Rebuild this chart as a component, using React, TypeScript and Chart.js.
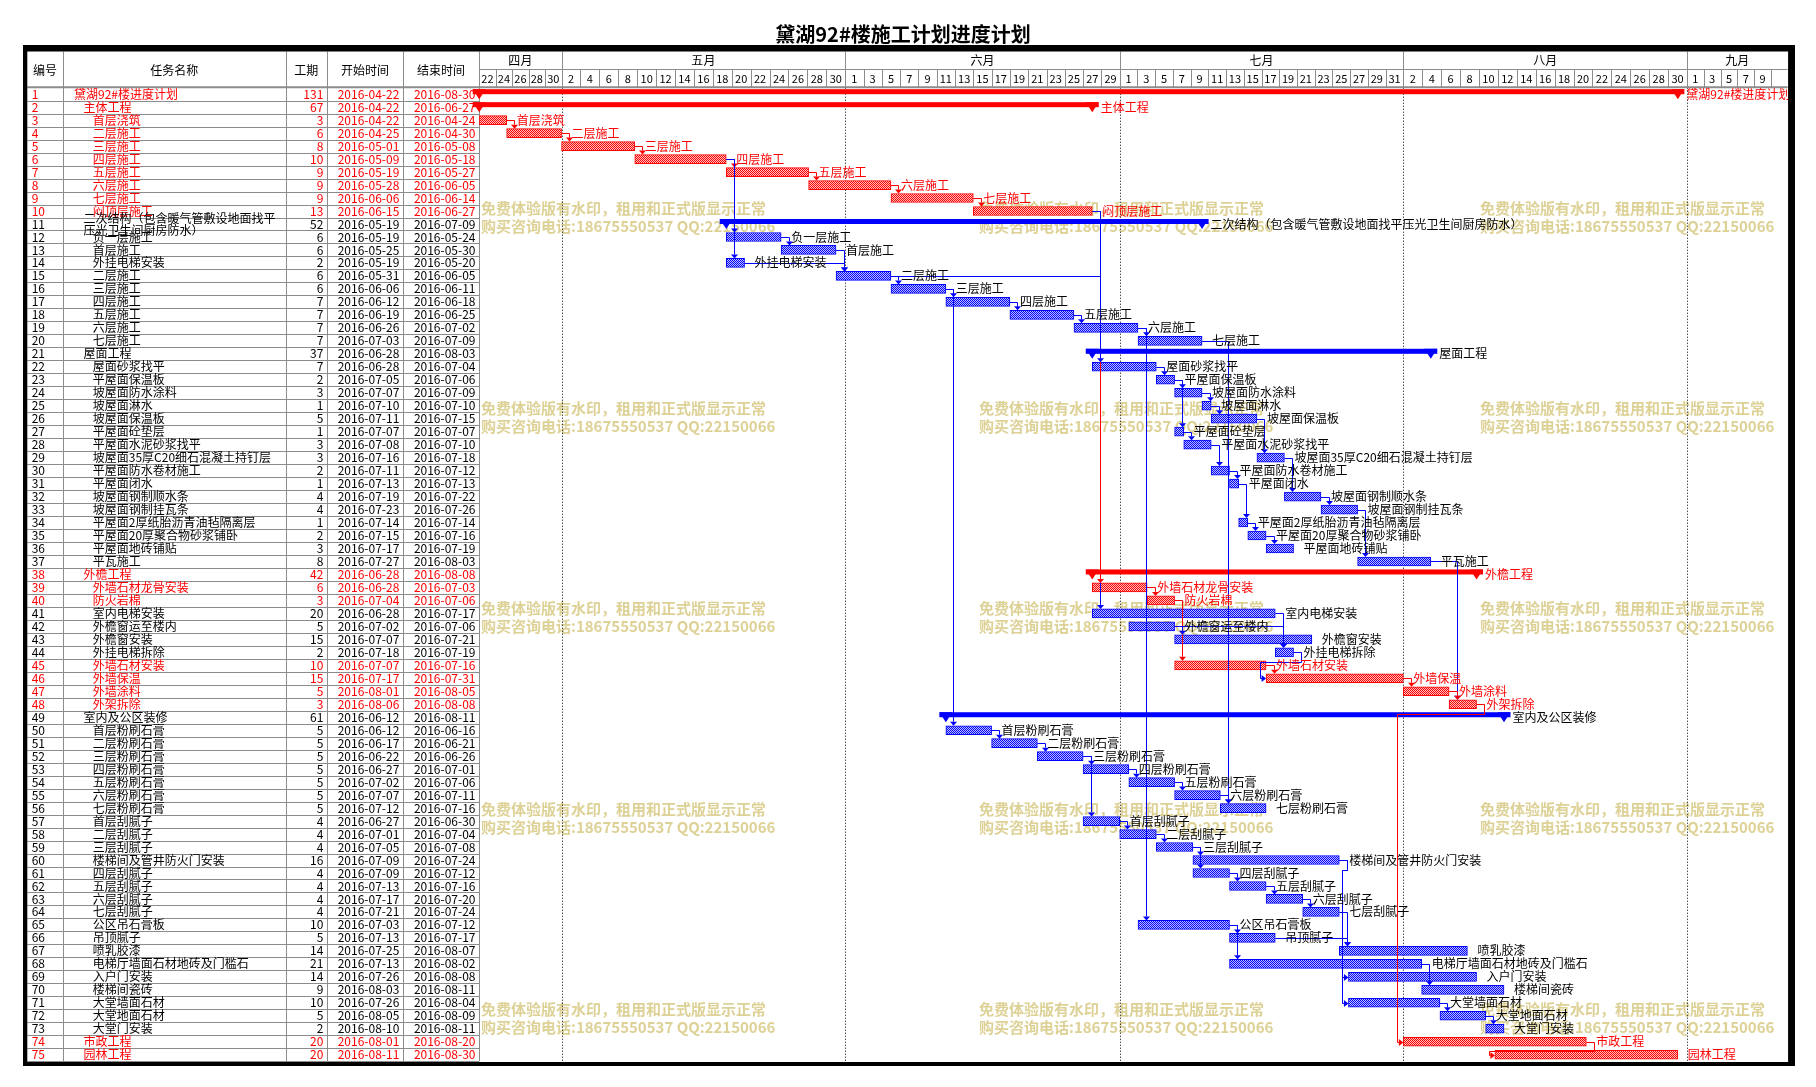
import React, { useEffect, useRef } from 'react';
import { Chart, registerables } from 'chart.js';
Chart.register(...registerables);

const chartTitle = '黛湖92#楼施工计划进度计划';
const tableHeaders = ['编号', '任务名称', '工期', '开始时间', '结束时间'];

const taskNames = [
  '黛湖92#楼进度计划', '主体工程', '首层浇筑', '二层施工', '三层施工', '四层施工', '五层施工', '六层施工', '七层施工', '闷顶层施工',
  '二次结构（包含暖气管敷设地面找平压光卫生间厨房防水）', '负一层施工', '首层施工', '外挂电梯安装', '二层施工', '三层施工', '四层施工', '五层施工', '六层施工', '七层施工',
  '屋面工程', '屋面砂浆找平', '平屋面保温板', '坡屋面防水涂料', '坡屋面淋水', '坡屋面保温板', '平屋面砼垫层', '平屋面水泥砂浆找平', '坡屋面35厚C20细石混凝土持钉层', '平屋面防水卷材施工',
  '平屋面闭水', '坡屋面钢制顺水条', '坡屋面钢制挂瓦条', '平屋面2厚纸胎沥青油毡隔离层', '平屋面20厚聚合物砂浆铺卧', '平屋面地砖铺贴', '平瓦施工', '外檐工程', '外墙石材龙骨安装', '防火岩棉',
  '室内电梯安装', '外檐窗运至楼内', '外檐窗安装', '外挂电梯拆除', '外墙石材安装', '外墙保温', '外墙涂料', '外架拆除', '室内及公区装修', '首层粉刷石膏',
  '二层粉刷石膏', '三层粉刷石膏', '四层粉刷石膏', '五层粉刷石膏', '六层粉刷石膏', '七层粉刷石膏', '首层刮腻子', '二层刮腻子', '三层刮腻子', '楼梯间及管井防火门安装',
  '四层刮腻子', '五层刮腻子', '六层刮腻子', '七层刮腻子', '公区吊石膏板', '吊顶腻子', '喷乳胶漆', '电梯厅墙面石材地砖及门槛石', '入户门安装', '楼梯间瓷砖',
  '大堂墙面石材', '大堂地面石材', '大堂门安装', '市政工程', '园林工程',
];

const durations = [
  131, 67, 3, 6, 8, 10, 9, 9, 9, 13,
  52, 6, 6, 2, 6, 6, 7, 7, 7, 7,
  37, 7, 2, 3, 1, 5, 1, 3, 3, 2,
  1, 4, 4, 1, 2, 3, 8, 42, 6, 3,
  20, 5, 15, 2, 10, 15, 5, 3, 61, 5,
  5, 5, 5, 5, 5, 5, 4, 4, 4, 16,
  4, 4, 4, 4, 10, 5, 14, 21, 14, 9,
  10, 5, 2, 20, 20,
];

const startDates = [
  '2016-04-22', '2016-04-22', '2016-04-22', '2016-04-25', '2016-05-01', '2016-05-09', '2016-05-19', '2016-05-28', '2016-06-06', '2016-06-15',
  '2016-05-19', '2016-05-19', '2016-05-25', '2016-05-19', '2016-05-31', '2016-06-06', '2016-06-12', '2016-06-19', '2016-06-26', '2016-07-03',
  '2016-06-28', '2016-06-28', '2016-07-05', '2016-07-07', '2016-07-10', '2016-07-11', '2016-07-07', '2016-07-08', '2016-07-16', '2016-07-11',
  '2016-07-13', '2016-07-19', '2016-07-23', '2016-07-14', '2016-07-15', '2016-07-17', '2016-07-27', '2016-06-28', '2016-06-28', '2016-07-04',
  '2016-06-28', '2016-07-02', '2016-07-07', '2016-07-18', '2016-07-07', '2016-07-17', '2016-08-01', '2016-08-06', '2016-06-12', '2016-06-12',
  '2016-06-17', '2016-06-22', '2016-06-27', '2016-07-02', '2016-07-07', '2016-07-12', '2016-06-27', '2016-07-01', '2016-07-05', '2016-07-09',
  '2016-07-09', '2016-07-13', '2016-07-17', '2016-07-21', '2016-07-03', '2016-07-13', '2016-07-25', '2016-07-13', '2016-07-26', '2016-08-03',
  '2016-07-26', '2016-08-05', '2016-08-10', '2016-08-01', '2016-08-11',
];

const endDates = [
  '2016-08-30', '2016-06-27', '2016-04-24', '2016-04-30', '2016-05-08', '2016-05-18', '2016-05-27', '2016-06-05', '2016-06-14', '2016-06-27',
  '2016-07-09', '2016-05-24', '2016-05-30', '2016-05-20', '2016-06-05', '2016-06-11', '2016-06-18', '2016-06-25', '2016-07-02', '2016-07-09',
  '2016-08-03', '2016-07-04', '2016-07-06', '2016-07-09', '2016-07-10', '2016-07-15', '2016-07-07', '2016-07-10', '2016-07-18', '2016-07-12',
  '2016-07-13', '2016-07-22', '2016-07-26', '2016-07-14', '2016-07-16', '2016-07-19', '2016-08-03', '2016-08-08', '2016-07-03', '2016-07-06',
  '2016-07-17', '2016-07-06', '2016-07-21', '2016-07-19', '2016-07-16', '2016-07-31', '2016-08-05', '2016-08-08', '2016-08-11', '2016-06-16',
  '2016-06-21', '2016-06-26', '2016-07-01', '2016-07-06', '2016-07-11', '2016-07-16', '2016-06-30', '2016-07-04', '2016-07-08', '2016-07-24',
  '2016-07-12', '2016-07-16', '2016-07-20', '2016-07-24', '2016-07-12', '2016-07-17', '2016-08-07', '2016-08-02', '2016-08-08', '2016-08-11',
  '2016-08-04', '2016-08-09', '2016-08-11', '2016-08-20', '2016-08-30',
];

const levels = [
  0, 1, 2, 2, 2, 2, 2, 2, 2, 2,
  1, 2, 2, 2, 2, 2, 2, 2, 2, 2,
  1, 2, 2, 2, 2, 2, 2, 2, 2, 2,
  2, 2, 2, 2, 2, 2, 2, 1, 2, 2,
  2, 2, 2, 2, 2, 2, 2, 2, 1, 2,
  2, 2, 2, 2, 2, 2, 2, 2, 2, 2,
  2, 2, 2, 2, 2, 2, 2, 2, 2, 2,
  2, 2, 2, 1, 1,
];

const criticalRows = [1, 2, 3, 4, 5, 6, 7, 8, 9, 10, 38, 39, 40, 45, 46, 47, 48, 74, 75];
const summaryRows = [1, 2, 11, 21, 38, 49];

// [predecessor row, successor row, 'h' = enters from the left]
const links: [number, number, string?][] = [
  [3, 4], [4, 5], [5, 6], [6, 7], [7, 8], [8, 9], [9, 10],
  [6, 12], [6, 14], [12, 13], [13, 15], [14, 15], [15, 16], [16, 17], [17, 18], [18, 19], [19, 20],
  [15, 41], [10, 39], [10, 22],
  [22, 23], [23, 24], [24, 25], [25, 26], [23, 27], [27, 28], [28, 30], [26, 29], [30, 31], [31, 34],
  [29, 32], [32, 33], [34, 35], [35, 36], [33, 37],
  [39, 40], [40, 45], [41, 44], [42, 44], [42, 43], [44, 46, 'h'], [45, 46], [46, 47], [37, 48], [47, 48],
  [16, 50], [50, 51], [51, 52], [52, 53], [53, 54], [54, 55], [55, 56], [20, 56],
  [52, 57], [57, 58], [58, 59], [59, 60], [59, 61], [61, 62], [62, 63], [63, 64],
  [19, 65], [65, 66], [65, 68], [64, 67], [66, 67], [68, 70], [60, 69, 'h'], [60, 71, 'h'], [71, 72], [72, 73],
  [48, 74, 'h'], [74, 75, 'h'],
];

const monthLabels = ['四月', '五月', '六月', '七月', '八月', '九月'];
const monthStarts = ['2016-04-22', '2016-05-01', '2016-06-01', '2016-07-01', '2016-08-01', '2016-09-01'];
const dayTickLabels = [
  ['22', '24', '26', '28', '30'],
  ['2', '4', '6', '8', '10', '12', '14', '16', '18', '20', '22', '24', '26', '28', '30'],
  ['1', '3', '5', '7', '9', '11', '13', '15', '17', '19', '21', '23', '25', '27', '29'],
  ['1', '3', '5', '7', '9', '11', '13', '15', '17', '19', '21', '23', '25', '27', '29', '31'],
  ['2', '4', '6', '8', '10', '12', '14', '16', '18', '20', '22', '24', '26', '28', '30'],
  ['1', '3', '5', '7', '9', ''],
];
const axisEndDay = 143;

const watermarkLines = ['免费体验版有水印，租用和正式版显示正常', '购买咨询电话:18675550537 QQ:22150066'];

// ---- helpers ----
const DAY0 = Date.UTC(2016, 3, 22);
const dayIdx = (s: string) => {
  const [yy, mm, dd] = s.split('-').map(Number);
  return (Date.UTC(yy, mm - 1, dd) - DAY0) / 86400000;
};

const OFF = 8; // body margin: page coords -> canvas coords
const W = 1800;
const H = 1071;
const FONT = '"Noto Sans CJK SC", "Noto Sans", sans-serif';
const RED = '#FF0000';
const BLUE = '#0000FF';
const GRID = '#8c8c8c';

const isCrit = (i: number) => criticalRows.includes(i + 1);
const isSummary = (i: number) => summaryRows.includes(i + 1);

const ganttPlugin = {
  id: 'gantt',
  beforeDraw(chart: any) {
    const ctx = chart.ctx;
    ctx.save();
    ctx.fillStyle = '#fff';
    ctx.fillRect(0, 0, chart.width, chart.height);
    ctx.restore();
  },
  beforeDatasetsDraw(chart: any) {
    const { ctx, scales } = chart;
    const x = scales.x, y = scales.y;
    const X = (v: number) => x.getPixelForValue(v) + OFF;
    const rowC = (i: number) => y.getPixelForValue(i) + OFF;
    const rowH = (y.bottom - y.top) / taskNames.length;
    const gL = x.left + OFF, gR = x.right + OFF;
    const tTop = y.top + OFF, tBot = y.bottom + OFF;
    const headTop = 51.5, headMid = 69;
    const cols = [27.3, 62.7, 285.7, 327, 403];

    ctx.save();
    ctx.translate(-OFF, -OFF);

    // title
    ctx.fillStyle = '#000';
    ctx.font = `bold 20px ${FONT}`;
    ctx.textAlign = 'center';
    ctx.textBaseline = 'middle';
    ctx.fillText(chartTitle, 903, 34);

    // watermark
    ctx.save();
    ctx.beginPath();
    ctx.rect(gL, tTop, gR - gL, tBot - tTop);
    ctx.clip();
    ctx.font = `bold 15px ${FONT}`;
    ctx.fillStyle = 'rgb(221,209,150)';
    ctx.textAlign = 'left';
    const wmX = [481, 979, 1480];
    const wmY = [208.5, 408.5, 608.5, 809, 1009];
    wmY.forEach((wy) => wmX.forEach((wx) => {
      ctx.fillText(watermarkLines[0], wx, wy);
      ctx.fillText(watermarkLines[1], wx, wy + 18);
    }));
    ctx.restore();

    // month dotted lines
    ctx.save();
    ctx.strokeStyle = '#000';
    ctx.lineWidth = 1;
    ctx.setLineDash([1, 2]);
    monthStarts.slice(1).forEach((m) => {
      const px = Math.round(X(dayIdx(m))) + 0.5;
      ctx.beginPath();
      ctx.moveTo(px, tTop);
      ctx.lineTo(px, tBot);
      ctx.stroke();
    });
    ctx.restore();

    // table grid
    ctx.strokeStyle = GRID;
    ctx.lineWidth = 1;
    ctx.beginPath();
    for (let i = 1; i <= taskNames.length; i++) {
      const yy = Math.round(tTop + i * rowH) + 0.5;
      ctx.moveTo(cols[0], yy);
      ctx.lineTo(gL, yy);
    }
    [cols[1], cols[2], cols[3], cols[4], gL, gR].forEach((cx) => {
      const px = Math.round(cx) + 0.5;
      ctx.moveTo(px, headTop);
      ctx.lineTo(px, tBot);
    });
    ctx.moveTo(gL, Math.round(headMid) + 0.5);
    ctx.lineTo(gR, Math.round(headMid) + 0.5);
    ctx.stroke();
    ctx.lineWidth = 2;
    ctx.beginPath();
    ctx.moveTo(cols[0], tTop - 0.5);
    ctx.lineTo(gR, tTop - 0.5);
    ctx.stroke();
    ctx.lineWidth = 1;

    // gantt header: months and equal-width day cells within each month
    ctx.fillStyle = '#000';
    ctx.textAlign = 'center';
    ctx.textBaseline = 'middle';
    ctx.beginPath();
    monthLabels.forEach((lab, k) => {
      const ms = dayIdx(monthStarts[k]);
      const me = k + 1 < monthStarts.length ? dayIdx(monthStarts[k + 1]) : axisEndDay;
      const x0 = X(ms), x1 = X(me);
      ctx.font = `12px ${FONT}`;
      ctx.fillText(lab, (x0 + x1) / 2, 60);
      if (k > 0) {
        const px = Math.round(x0) + 0.5;
        ctx.moveTo(px, headTop);
        ctx.lineTo(px, tTop);
      }
      const labs = dayTickLabels[k];
      const cw = (x1 - x0) / labs.length;
      ctx.font = `11px ${FONT}`;
      labs.forEach((txt, j) => {
        const cs = x0 + j * cw;
        const tw = ctx.measureText(txt).width;
        const cx = cs + cw / 2;
        if (tw > cw - 2) {
          ctx.save();
          ctx.translate(cx, 78.5);
          ctx.scale((cw - 2) / tw, 1);
          ctx.fillText(txt, 0, 0);
          ctx.restore();
        } else {
          ctx.fillText(txt, cx, 78.5);
        }
        if (j < labs.length - 1) {
          const px = Math.round(cs + cw) + 0.5;
          ctx.moveTo(px, headMid);
          ctx.lineTo(px, tTop);
        }
      });
    });
    ctx.stroke();

    // table header text
    ctx.font = `12px ${FONT}`;
    ctx.fillStyle = '#000';
    const colEdges = [27.3, 62.7, 285.7, 327, 403, gL];
    tableHeaders.forEach((h, k) => {
      ctx.fillText(h, (colEdges[k] + colEdges[k + 1]) / 2, 70);
    });

    // table rows
    taskNames.forEach((name, i) => {
      const cy = rowC(i);
      ctx.fillStyle = isCrit(i) ? RED : '#000';
      ctx.textBaseline = 'middle';
      ctx.textAlign = 'left';
      ctx.fillText(String(i + 1), 31.7, cy);
      const nx = 74 + levels[i] * 9.4;
      const maxW = cols[2] - nx - 6;
      if (ctx.measureText(name).width > maxW) {
        let cut = name.length;
        while (cut > 1 && ctx.measureText(name.slice(0, cut)).width > maxW) cut--;
        ctx.fillText(name.slice(0, cut), nx, cy - 6);
        ctx.fillText(name.slice(cut), nx, cy + 6);
      } else {
        ctx.fillText(name, nx, cy);
      }
      ctx.textAlign = 'right';
      ctx.fillText(String(durations[i]), 323.3, cy);
      ctx.fillText(startDates[i], 399.3, cy);
      ctx.fillText(endDates[i], 475.5, cy);
    });

    ctx.restore();
  },
  afterDatasetsDraw(chart: any) {
    const { ctx, scales } = chart;
    const x = scales.x, y = scales.y;
    const X = (v: number) => x.getPixelForValue(v) + OFF;
    const rowC = (i: number) => y.getPixelForValue(i) + OFF;
    const rowH = (y.bottom - y.top) / taskNames.length;
    const gR = x.right + OFF;

    ctx.save();
    ctx.translate(-OFF, -OFF);

    // summary bars
    summaryRows.forEach((r) => {
      const i = r - 1;
      const sx = X(dayIdx(startDates[i]));
      const ex = X(dayIdx(endDates[i]) + 1);
      const top = rowC(i) - rowH / 2;
      ctx.fillStyle = isCrit(i) ? RED : BLUE;
      ctx.fillRect(sx - 6.5, top + 1.5, ex - sx + 13, 5);
      [sx, ex].forEach((cx) => {
        ctx.beginPath();
        ctx.moveTo(cx - 6.5, top + 1.5);
        ctx.lineTo(cx + 6.5, top + 1.5);
        ctx.lineTo(cx, top + 11.5);
        ctx.closePath();
        ctx.fill();
      });
    });

    // dependency links
    ctx.lineWidth = 1;
    links.forEach(([p, s, t]) => {
      const pi = p - 1, si = s - 1;
      const pe = X(dayIdx(endDates[pi]) + 1);
      const pm = Math.round(rowC(pi)) + 0.5;
      const ss = X(dayIdx(startDates[si]));
      const sm = Math.round(rowC(si)) + 0.5;
      const col = isCrit(pi) && isCrit(si) ? RED : BLUE;
      ctx.strokeStyle = col;
      ctx.fillStyle = col;
      ctx.beginPath();
      if (t === 'h') {
        const xa = Math.round(pe + 7.5) + 0.5;
        const yb = Math.round(rowC(pi) + rowH / 2 + 3) + 0.5;
        const xb = Math.round(ss - 6) + 0.5;
        ctx.moveTo(pe, pm);
        ctx.lineTo(xa, pm);
        ctx.lineTo(xa, yb);
        ctx.lineTo(xb, yb);
        ctx.lineTo(xb, sm);
        ctx.lineTo(ss - 4, sm);
        ctx.stroke();
        ctx.beginPath();
        ctx.moveTo(ss - 4.5, sm - 3.5);
        ctx.lineTo(ss - 4.5, sm + 3.5);
        ctx.lineTo(ss, sm);
        ctx.closePath();
        ctx.fill();
      } else {
        const xv = Math.round(Math.max(pe, ss) + 7.5) + 0.5;
        const down = si > pi;
        const ty = down ? rowC(si) - 4.5 : rowC(si) + 4.5;
        const ay = down ? ty - 4 : ty + 4;
        ctx.moveTo(pe, pm);
        ctx.lineTo(xv, pm);
        ctx.lineTo(xv, ay);
        ctx.stroke();
        ctx.beginPath();
        ctx.moveTo(xv - 3.5, ay);
        ctx.lineTo(xv + 3.5, ay);
        ctx.lineTo(xv, ty);
        ctx.closePath();
        ctx.fill();
      }
    });

    // bar labels
    ctx.font = `12px ${FONT}`;
    ctx.textAlign = 'left';
    ctx.textBaseline = 'middle';
    taskNames.forEach((name, i) => {
      const ex = X(dayIdx(endDates[i]) + 1);
      const lx = isSummary(i) ? ex + 8.5 : ex + 10;
      ctx.fillStyle = isCrit(i) ? RED : '#000';
      ctx.fillText(name, lx, rowC(i));
    });

    // outer frame
    ctx.fillStyle = '#000';
    ctx.fillRect(23, 45, 1795 - 23, 6.5);
    ctx.fillRect(23, 45, 4.3, 1066 - 45);
    ctx.fillRect(Math.max(gR + 0.5, 1788), 45, 1795 - Math.max(gR + 0.5, 1788), 1066 - 45);
    ctx.fillRect(23, 1062, 1795 - 23, 4);

    ctx.restore();
  },
};

export default function App() {
  const ref = useRef<HTMLCanvasElement>(null);
  useEffect(() => {
    const canvas = ref.current!;
    const c2d = canvas.getContext('2d')!;
    const mkPattern = (color: string, tint: string) => {
      const c = document.createElement('canvas');
      c.width = 2;
      c.height = 2;
      const g = c.getContext('2d')!;
      g.fillStyle = tint;
      g.fillRect(0, 0, 2, 2);
      g.fillStyle = color;
      g.fillRect(0, 0, 1, 1);
      g.fillRect(1, 1, 1, 1);
      return c2d.createPattern(c, 'repeat') as CanvasPattern;
    };
    const rowLabels = taskNames.map((_, i) => String(i + 1));
    const blueData = taskNames.map((_, i) =>
      !isSummary(i) && !isCrit(i) ? [dayIdx(startDates[i]), dayIdx(endDates[i]) + 1] : null);
    const redData = taskNames.map((_, i) =>
      !isSummary(i) && isCrit(i) ? [dayIdx(startDates[i]), dayIdx(endDates[i]) + 1] : null);

    const chartTop = 87.7 - OFF;
    const chartBottom = 87.7 + 12.98 * taskNames.length - OFF;
    const chartLeft = 479.2 - OFF;
    const chartRight = 479.2 + 9.15 * axisEndDay - OFF;

    const chart = new Chart(canvas, {
      type: 'bar',
      data: {
        labels: rowLabels,
        datasets: [
          {
            label: 'tasks',
            data: blueData as any,
            backgroundColor: mkPattern(BLUE, 'rgb(190,190,255)'),
            borderColor: BLUE,
            borderWidth: 1,
            borderSkipped: false,
            barThickness: 9,
            grouped: false,
          } as any,
          {
            label: 'critical',
            data: redData as any,
            backgroundColor: mkPattern(RED, 'rgb(255,190,190)'),
            borderColor: RED,
            borderWidth: 1,
            borderSkipped: false,
            barThickness: 9,
            grouped: false,
          } as any,
        ],
      },
      options: {
        indexAxis: 'y',
        animation: false,
        responsive: false,
        layout: {
          padding: {
            left: chartLeft,
            right: W - chartRight,
            top: chartTop,
            bottom: H - chartBottom,
          },
        },
        plugins: { legend: { display: false }, tooltip: { enabled: false } },
        scales: {
          x: { type: 'linear', min: 0, max: axisEndDay, display: false },
          y: { type: 'category', display: false, offset: true },
        },
      },
      plugins: [ganttPlugin],
    });
    return () => chart.destroy();
  }, []);
  return (
    <div style={{ width: W, height: H }}>
      <canvas ref={ref} width={W} height={H} style={{ display: 'block', width: W, height: H }} />
    </div>
  );
}
